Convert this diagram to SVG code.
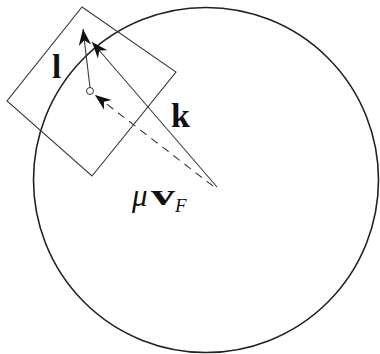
<svg xmlns="http://www.w3.org/2000/svg" width="380" height="354" viewBox="0 0 380 354">
<style>
.ln{stroke:#3a3a3a;stroke-width:1.1;fill:none}
.lbl{font-family:"Liberation Serif","DejaVu Serif",serif;fill:#111}
</style>
<defs>
<marker id="ah" markerUnits="userSpaceOnUse" markerWidth="20" markerHeight="20" viewBox="-14 -6 16 12" refX="0" refY="0" orient="auto">
<path d="M0,0 L-13,-5 L-9,0 L-13,5 Z" fill="#111"/>
</marker>
</defs>
<rect width="380" height="354" fill="#fff"/>
<g id="circle">
<circle cx="206" cy="180" r="172.5" fill="none" stroke="#222" stroke-width="1.6"/>
</g>
<g id="square">
<polygon points="82,7 176,72 92,176 7,101" class="ln"/>
</g>
<g id="connectors">
<line x1="217" y1="187" x2="92" y2="42" class="ln" marker-end="url(#ah)"/>
<line x1="213" y1="186" x2="95" y2="95" class="ln" stroke-dasharray="8,6" stroke-width="1.3" marker-end="url(#ah)"/>
<line x1="90" y1="87.5" x2="83" y2="29" class="ln" stroke-width="1.4" marker-end="url(#ah)"/>
</g>
<g id="origin">
<circle cx="90" cy="91" r="3.5" fill="#fff" stroke="#333" stroke-width="1"/>
</g>
<g id="labels">
<text class="lbl" x="52" y="78" font-size="33" font-weight="bold">l</text>
<text class="lbl" x="171" y="127" font-size="34" font-weight="bold">k</text>
<text class="lbl" x="132" y="206" font-size="31" font-style="italic">μ</text>
<text class="lbl" x="151" y="205" font-size="30" font-weight="bold" textLength="24" lengthAdjust="spacingAndGlyphs">v</text>
<text class="lbl" x="175" y="212" font-size="19" font-style="italic">F</text>
</g>
</svg>
